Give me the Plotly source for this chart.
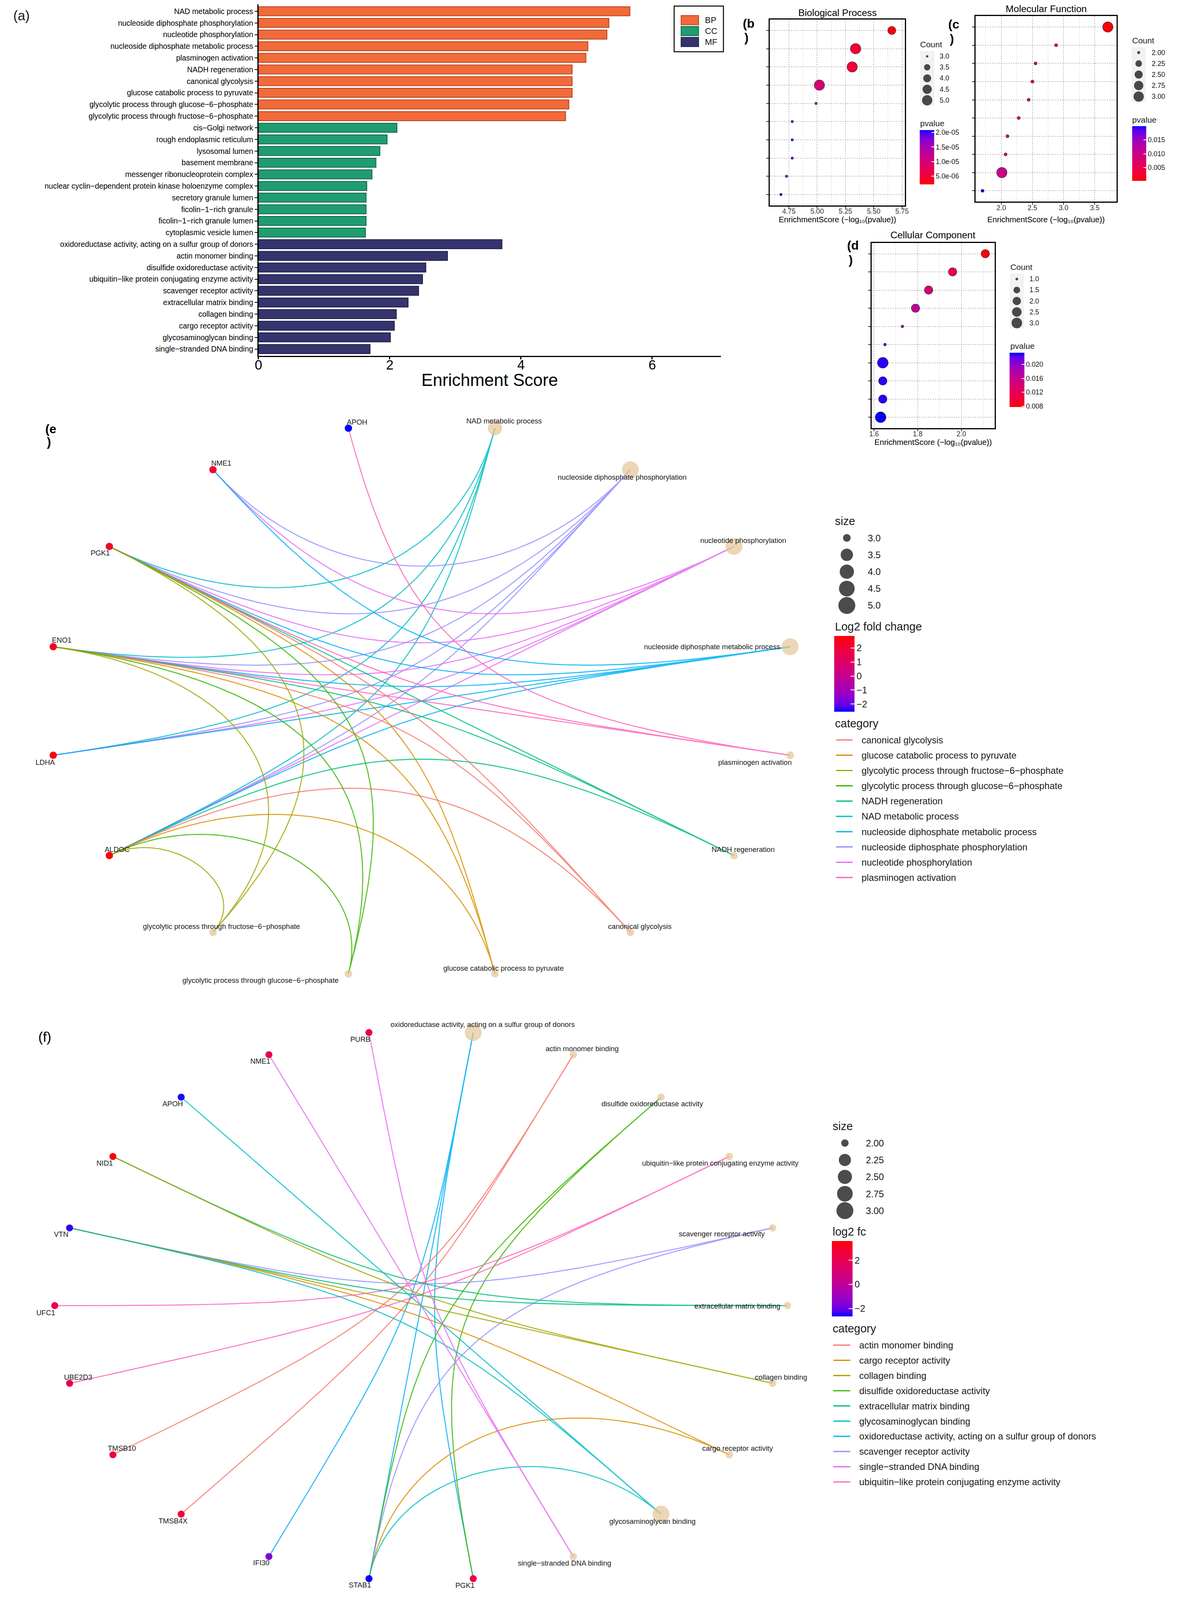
import math
import plotly.graph_objects as go

# The reference is laid out on a 3024 x 5568 canvas; the browser viewport is only
# 4096 px tall, so the same layout is drawn on a 3024 x 4096 page (vertical scale SY).
W, REF_H = 3024, 5568
H = 4096
SY = H / REF_H
FS = 0.88          # text scale
MS_DOT = 0.85      # marker scale, dot plots
MS_NET = 0.76      # marker scale, networks
FONT = "Liberation Sans, Arial, Helvetica, sans-serif"

# ------------------------------------------------------------------ data
bp_terms = ["NAD metabolic process", "nucleoside diphosphate phosphorylation",
            "nucleotide phosphorylation", "nucleoside diphosphate metabolic process",
            "plasminogen activation", "NADH regeneration", "canonical glycolysis",
            "glucose catabolic process to pyruvate",
            "glycolytic process through glucose\u22126\u2212phosphate",
            "glycolytic process through fructose\u22126\u2212phosphate"]
bp_score = [5.66, 5.34, 5.31, 5.02, 4.99, 4.78, 4.78, 4.78, 4.73, 4.68]
bp_count = [4, 5, 5, 5, 3, 3, 3, 3, 3, 3]
bp_pvalue = [2.2e-6, 4.6e-6, 4.9e-6, 9.5e-6, 1.02e-5, 1.66e-5, 1.66e-5, 1.66e-5, 1.86e-5, 2.09e-5]

cc_terms = ["cis\u2212Golgi network", "rough endoplasmic reticulum", "lysosomal lumen",
            "basement membrane", "messenger ribonucleoprotein complex",
            "nuclear cyclin\u2212dependent protein kinase holoenzyme complex",
            "secretory granule lumen", "ficolin\u22121\u2212rich granule",
            "ficolin\u22121\u2212rich granule lumen", "cytoplasmic vesicle lumen"]
cc_score = [2.11, 1.96, 1.85, 1.79, 1.73, 1.65, 1.64, 1.64, 1.64, 1.63]
cc_count = [2, 2, 2, 2, 1, 1, 3, 2, 2, 3]
cc_pvalue = [0.0078, 0.0110, 0.0141, 0.0162, 0.0186, 0.0224, 0.0229, 0.0229, 0.0229, 0.0234]

mf_terms = ["oxidoreductase activity, acting on a sulfur group of donors",
            "actin monomer binding", "disulfide oxidoreductase activity",
            "ubiquitin\u2212like protein conjugating enzyme activity",
            "scavenger receptor activity", "extracellular matrix binding",
            "collagen binding", "cargo receptor activity", "glycosaminoglycan binding",
            "single\u2212stranded DNA binding"]
mf_score = [3.71, 2.88, 2.55, 2.50, 2.44, 2.28, 2.10, 2.07, 2.01, 1.70]
mf_count = [3, 2, 2, 2, 2, 2, 2, 2, 3, 2]
mf_pvalue = [0.000195, 0.00132, 0.00282, 0.00316, 0.00363, 0.00525, 0.00794, 0.00851, 0.00977, 0.0200]

bp_count_breaks = [3.0, 3.5, 4.0, 4.5, 5.0]
mf_count_breaks = [2.00, 2.25, 2.50, 2.75, 3.00]
cc_count_breaks = [1.0, 1.5, 2.0, 2.5, 3.0]
bp_p_ticks = [5e-6, 1e-5, 1.5e-5, 2e-5]
bp_p_ticktext = ["5.0e-06", "1.0e-05", "1.5e-05", "2.0e-05"]
mf_p_ticks = [0.005, 0.010, 0.015]
mf_p_ticktext = ["0.005", "0.010", "0.015"]
cc_p_ticks = [0.008, 0.012, 0.016, 0.020]
cc_p_ticktext = ["0.008", "0.012", "0.016", "0.020"]

# network (e): BP terms and genes
e_genes = ["ALDOC", "LDHA", "ENO1", "PGK1", "NME1", "APOH"]
e_log2fc = [2.86, 2.6, 2.4, 2.3, 2.2, -2.55]
e_links = {
    "NAD metabolic process": ["PGK1", "ENO1", "LDHA", "ALDOC"],
    "nucleoside diphosphate phosphorylation": ["NME1", "PGK1", "ENO1", "LDHA", "ALDOC"],
    "nucleotide phosphorylation": ["NME1", "PGK1", "ENO1", "LDHA", "ALDOC"],
    "nucleoside diphosphate metabolic process": ["NME1", "PGK1", "ENO1", "LDHA", "ALDOC"],
    "plasminogen activation": ["APOH", "PGK1", "ENO1"],
    "NADH regeneration": ["PGK1", "ENO1", "ALDOC"],
    "canonical glycolysis": ["PGK1", "ENO1", "ALDOC"],
    "glucose catabolic process to pyruvate": ["PGK1", "ENO1", "ALDOC"],
    "glycolytic process through glucose\u22126\u2212phosphate": ["PGK1", "ENO1", "ALDOC"],
    "glycolytic process through fructose\u22126\u2212phosphate": ["PGK1", "ENO1", "ALDOC"],
}
e_legend_order = ["canonical glycolysis", "glucose catabolic process to pyruvate",
                  "glycolytic process through fructose\u22126\u2212phosphate",
                  "glycolytic process through glucose\u22126\u2212phosphate",
                  "NADH regeneration", "NAD metabolic process",
                  "nucleoside diphosphate metabolic process",
                  "nucleoside diphosphate phosphorylation",
                  "nucleotide phosphorylation", "plasminogen activation"]
e_size_breaks = [3.0, 3.5, 4.0, 4.5, 5.0]
e_fc_ticks = [-2, -1, 0, 1, 2]
e_fc_ticktext = ["\u22122", "\u22121", "0", "1", "2"]

# network (f): MF terms and genes
f_genes = ["PGK1", "STAB1", "IFI30", "TMSB4X", "TMSB10", "UBE2D3", "UFC1", "VTN",
           "NID1", "APOH", "NME1", "PURB"]
f_log2fc = [2.3, -2.67, -1.6, 2.6, 2.4, 2.1, 2.3, -2.4, 3.6, -2.55, 2.2, 2.3]
f_links = {
    "oxidoreductase activity, acting on a sulfur group of donors": ["IFI30", "STAB1", "PGK1"],
    "actin monomer binding": ["TMSB10", "TMSB4X"],
    "disulfide oxidoreductase activity": ["STAB1", "PGK1"],
    "ubiquitin\u2212like protein conjugating enzyme activity": ["UFC1", "UBE2D3"],
    "scavenger receptor activity": ["VTN", "STAB1"],
    "extracellular matrix binding": ["VTN", "NID1"],
    "collagen binding": ["NID1", "VTN"],
    "cargo receptor activity": ["VTN", "STAB1"],
    "glycosaminoglycan binding": ["APOH", "VTN", "STAB1"],
    "single\u2212stranded DNA binding": ["PURB", "NME1"],
}
f_legend_order = ["actin monomer binding", "cargo receptor activity", "collagen binding",
                  "disulfide oxidoreductase activity", "extracellular matrix binding",
                  "glycosaminoglycan binding",
                  "oxidoreductase activity, acting on a sulfur group of donors",
                  "scavenger receptor activity", "single\u2212stranded DNA binding",
                  "ubiquitin\u2212like protein conjugating enzyme activity"]
f_size_breaks = [2.00, 2.25, 2.50, 2.75, 3.00]
f_fc_ticks = [-2, 0, 2]
f_fc_ticktext = ["\u22122", "0", "2"]

# ------------------------------------------------------------------ style helpers
HUE10 = ["#F8766D", "#D89000", "#A3A500", "#39B600", "#00BF7D",
         "#00BFC4", "#00B0F6", "#9590FF", "#E76BF3", "#FF62BC"]
TAN = "#E5C494"
XTITLE = "EnrichmentScore (\u2212log\u2081\u2080(pvalue))"


def fs(v):
    return round(v * FS, 1)


def dom_x(l, r):
    return [l / W, r / W]


def dom_y(t, b):
    return [max(0.0, 1 - b / REF_H), 1 - t / REF_H]


def hidden_axis(**kw):
    d = dict(showticklabels=False, showgrid=False, zeroline=False, showline=False, ticks="",
             fixedrange=True)
    d.update(kw)
    return d


def _lin(c):
    c = c / 255.0
    return c / 12.92 if c <= 0.04045 else ((c + 0.055) / 1.055) ** 2.4


def _gam(c):
    c = max(0.0, min(1.0, c))
    v = 12.92 * c if c <= 0.0031308 else 1.055 * c ** (1 / 2.4) - 0.055
    return int(round(v * 255))


WP = (0.95047, 1.0, 1.08883)


def hex_to_lab(h):
    r, g, b = (_lin(int(h[i:i + 2], 16)) for i in (1, 3, 5))
    X = 0.4124564 * r + 0.3575761 * g + 0.1804375 * b
    Y = 0.2126729 * r + 0.7151522 * g + 0.0721750 * b
    Z = 0.0193339 * r + 0.1191920 * g + 0.9503041 * b

    def f(t):
        return t ** (1 / 3) if t > 216 / 24389 else (24389 / 27 * t + 16) / 116
    a1, a2, a3 = f(X / WP[0]), f(Y / WP[1]), f(Z / WP[2])
    return (116 * a2 - 16, 500 * (a1 - a2), 200 * (a2 - a3))


def lab_to_hex(L, a, b):
    f2 = (L + 16) / 116
    f1 = f2 + a / 500
    f3 = f2 - b / 200

    def finv(t):
        return t ** 3 if t ** 3 > 216 / 24389 else (116 * t - 16) / (24389 / 27)
    X, Y, Z = WP[0] * finv(f1), WP[1] * finv(f2), WP[2] * finv(f3)
    r = 3.2404542 * X - 1.5371385 * Y - 0.4985314 * Z
    g = -0.9692660 * X + 1.8760108 * Y + 0.0415560 * Z
    bb = 0.0556434 * X - 0.2040259 * Y + 1.0572252 * Z
    return "#%02x%02x%02x" % (_gam(r), _gam(g), _gam(bb))


def lab_scale(c0, c1, n=15):
    A, B = hex_to_lab(c0), hex_to_lab(c1)
    out = []
    for i in range(n):
        t = i / (n - 1)
        out.append([t, lab_to_hex(*[A[j] + (B[j] - A[j]) * t for j in range(3)])])
    return out


RED_BLUE = lab_scale("#FF0000", "#0000FF")   # low value -> red
BLUE_RED = lab_scale("#0000FF", "#FF0000")   # low value -> blue


def area_size(v, vmin, vmax, dmin, dmax, ms):
    return ms * (dmin + (dmax - dmin) * math.sqrt(max(0.0, (v - vmin) / (vmax - vmin))))


fig = go.Figure()
annotations = []
shapes = []


def ann(x, y, text, size, xanchor="left", color="#1a1a1a", xref="x7", yref="y7", **kw):
    annotations.append(dict(x=x, y=y, xref=xref, yref=yref, text=text, showarrow=False,
                            xanchor=xanchor, yanchor="middle",
                            font=dict(size=fs(size), color=color, family=FONT), **kw))


def panel_tag(x, y, text, size, gap):
    """ggplot-style tag that wrapped after its letter: '(b' and ')' on two lines."""
    ann(x, y, "<b>%s</b>" % text, size, color="black")
    ann(x + 4, y + gap, "<b>)</b>", size, color="black")


# ------------------------------------------------------------------ (a) bar chart
all_terms = bp_terms + cc_terms + mf_terms
bar_style = [("BP", bp_terms, bp_score, "#F26A3A", "#B3431C"),
             ("CC", cc_terms, cc_score, "#1F9D71", "#12624A"),
             ("MF", mf_terms, mf_score, "#35346F", "#1B1B45")]
for name, terms, vals, fill, edge in bar_style:
    fig.add_trace(go.Bar(y=terms, x=vals, orientation="h", width=0.78, name=name,
                         marker=dict(color=fill, line=dict(color=edge, width=2)),
                         xaxis="x", yaxis="y", showlegend=False, hoverinfo="skip"))

layout_axes = {}
layout_axes["xaxis"] = dict(domain=dom_x(656, 1848), range=[0, 7.05], anchor="y",
                            showline=True, linecolor="black", linewidth=2.5,
                            ticks="outside", ticklen=6, tickwidth=2.5, tickcolor="black",
                            ticklabelstandoff=-15,
                            tickvals=[0, 2, 4, 6], tickfont=dict(size=fs(39), color="black"),
                            showgrid=False, zeroline=False)
layout_axes["yaxis"] = dict(domain=dom_y(15, 1239), type="category", categoryorder="array",
                            categoryarray=all_terms, range=[len(all_terms) - 0.4, -0.6],
                            anchor="x", showline=True, linecolor="black", linewidth=2.5,
                            ticks="outside", ticklen=7, tickwidth=2, tickcolor="black",
                            tickfont=dict(size=fs(22), color="black"), showgrid=False,
                            zeroline=False)
ann(22, 54, "(a)", 39)
ann(1252, 1322, "Enrichment Score", 50, xanchor="center", color="black")
shapes.append(dict(type="rect", xref="x7", yref="y7", x0=1727, x1=1854, y0=21, y1=180,
                   line=dict(color="black", width=2.5), fillcolor="rgba(0,0,0,0)"))
for k, (name, terms, vals, fill, edge) in enumerate(bar_style):
    yc = 70 + k * 38
    shapes.append(dict(type="rect", xref="x7", yref="y7", x0=1745, x1=1790, y0=yc - 16,
                       y1=yc + 16, line=dict(color=edge, width=2), fillcolor=fill))
    ann(1804, yc, name, 25)

# ------------------------------------------------------------------ (b)(c)(d) dot plots
dot_panels = [
    dict(ax="2", terms=bp_terms, score=bp_score, count=bp_count, p=bp_pvalue, box=(1973, 68, 2322, 715),
         xr=[4.58, 5.777], ticks=[4.75, 5.0, 5.25, 5.5, 5.75], tt=["4.75", "5.00", "5.25", "5.50", "5.75"],
         title="Biological Process", title_y=44, lab="(b", lab_x=1902, lab_y=81, xt_y=764,
         breaks=bp_count_breaks, bfmt="%.1f", smin=7, smax=31,
         cnt_x=2359, cnt_y=154, key_x=2379, key_y0=196, lbl_x=2409,
         pv_y=429, cb=(2360, 452, 37, 189), pticks=bp_p_ticks, ptt=bp_p_ticktext, caxis="coloraxis"),
    dict(ax="3", terms=mf_terms, score=mf_score, count=mf_count, p=mf_pvalue, box=(2504, 56, 2867, 702),
         xr=[1.59, 3.85], ticks=[2.0, 2.5, 3.0, 3.5], tt=["2.0", "2.5", "3.0", "3.5"],
         title="Molecular Function", title_y=31, lab="(c", lab_x=2431, lab_y=84, xt_y=764,
         breaks=mf_count_breaks, bfmt="%.2f", smin=9, smax=31,
         cnt_x=2905, cnt_y=141, key_x=2924, key_y0=183, lbl_x=2956,
         pv_y=416, cb=(2907, 439, 36, 190), pticks=mf_p_ticks, ptt=mf_p_ticktext, caxis="coloraxis2"),
    dict(ax="4", terms=cc_terms, score=cc_score, count=cc_count, p=cc_pvalue, box=(2236, 845, 2553, 1490),
         xr=[1.589, 2.153], ticks=[1.6, 1.8, 2.0], tt=["1.6", "1.8", "2.0"],
         title="Cellular Component", title_y=818, lab="(d", lab_x=2171, lab_y=854, xt_y=1539,
         breaks=cc_count_breaks, bfmt="%.1f", smin=8, smax=32,
         cnt_x=2591, cnt_y=929, key_x=2610, key_y0=971, lbl_x=2641,
         pv_y=1204, cb=(2591, 1227, 38, 189), pticks=cc_p_ticks, ptt=cc_p_ticktext, caxis="coloraxis3"),
]

legend_dots_x, legend_dots_y, legend_dots_s = [], [], []
coloraxes = {}


def cbar(left, top, width, height, tickvals, ticktext, size):
    return dict(x=left / W, xanchor="left", y=1 - top / REF_H, yanchor="top", len=height * SY,
                lenmode="pixels", thickness=width, thicknessmode="pixels", outlinewidth=0,
                xpad=0, ypad=0, ticks="inside", ticklen=max(6, int(width * 0.2)), tickwidth=2,
                tickcolor="white", tickvals=tickvals, ticktext=ticktext,
                tickfont=dict(size=fs(size), color="#1a1a1a", family=FONT))


for P in dot_panels:
    l, t, r, b = P["box"]
    vmin, vmax = P["breaks"][0], P["breaks"][-1]
    sizes = [area_size(c, vmin, vmax, P["smin"], P["smax"], MS_DOT) for c in P["count"]]
    fig.add_trace(go.Scatter(x=P["score"], y=P["terms"], mode="markers",
                             marker=dict(size=sizes, color=P["p"], coloraxis=P["caxis"],
                                         line=dict(color="rgba(25,0,45,0.65)", width=1.5), opacity=1),
                             xaxis="x" + P["ax"], yaxis="y" + P["ax"], showlegend=False,
                             hoverinfo="skip"))
    tv = P["ticks"]
    step = tv[1] - tv[0]
    minor_vals = [tv[0] - step / 2] + [v + step / 2 for v in tv]
    layout_axes["xaxis" + P["ax"]] = dict(
        domain=dom_x(l, r), range=P["xr"], anchor="y" + P["ax"], showline=True, mirror=True,
        linecolor="black", linewidth=3, ticks="outside", ticklen=5, tickwidth=2, tickcolor="#333",
        ticklabelstandoff=-8,
        tickvals=tv, ticktext=P["tt"], tickfont=dict(size=fs(20), color="#333"),
        showgrid=True, gridcolor="#BDBDBD", griddash="dot", gridwidth=1.5,
        minor=dict(tickvals=minor_vals, showgrid=True, gridcolor="#CFCFCF", griddash="dot",
                   gridwidth=1.2, ticks=""),
        zeroline=False)
    layout_axes["yaxis" + P["ax"]] = dict(
        domain=dom_y(t, b), type="category", categoryorder="array", categoryarray=P["terms"],
        range=[len(P["terms"]) - 0.4, -0.6], anchor="x" + P["ax"], showline=True, mirror=True,
        linecolor="black", linewidth=3, ticks="outside", ticklen=6, tickwidth=2, tickcolor="#333",
        showticklabels=False, showgrid=True, gridcolor="#BDBDBD", griddash="dot", gridwidth=1.5,
        zeroline=False)
    ann((l + r) / 2, P["title_y"], P["title"], 28, xanchor="center", color="black")
    panel_tag(P["lab_x"], P["lab_y"], P["lab"], 36, 50)
    ann((l + r) / 2, P["xt_y"], XTITLE, 23, xanchor="center", color="black")
    ann(P["cnt_x"], P["cnt_y"], "Count", 24)
    dy = 38.25
    ky0 = P["key_y0"]
    shapes.append(dict(type="rect", xref="x7", yref="y7", x0=P["key_x"] - 18.5, x1=P["key_x"] + 18.5,
                       y0=ky0 - 19, y1=ky0 + 4 * dy + 19, line=dict(width=0), fillcolor="#F2F2F2",
                       layer="below"))
    for k, bv in enumerate(P["breaks"]):
        legend_dots_x.append(P["key_x"])
        legend_dots_y.append(ky0 + k * dy)
        legend_dots_s.append(area_size(bv, vmin, vmax, P["smin"], P["smax"], MS_DOT))
        ann(P["lbl_x"], ky0 + k * dy, P["bfmt"] % bv, 20)
    ann(P["cnt_x"], P["pv_y"], "pvalue", 24)
    cl, ct, cw, ch = P["cb"]
    coloraxes[P["caxis"]] = dict(colorscale=RED_BLUE,
                                 colorbar=cbar(cl, ct, cw, ch, P["pticks"], P["ptt"], 20))


# ------------------------------------------------------------------ (e)(f) networks
def arc_points(p0, p3, n=80):
    """ggraph circular arc: cubic Bezier whose control points are the end points
    pulled towards the centre by half the chord length."""
    d = math.hypot(p3[0] - p0[0], p3[1] - p0[1]) / 2.0
    k = 1 - d
    c1 = (p0[0] * k, p0[1] * k)
    c2 = (p3[0] * k, p3[1] * k)
    xs, ys = [], []
    for i in range(n + 1):
        t = i / n
        u = 1 - t
        xs.append(u ** 3 * p0[0] + 3 * u * u * t * c1[0] + 3 * u * t * t * c2[0] + t ** 3 * p3[0])
        ys.append(u ** 3 * p0[1] + 3 * u * u * t * c1[1] + 3 * u * t * t * c2[1] + t ** 3 * p3[1])
    return xs, ys


e_label_offsets = {
    "APOH": (22, -21), "NAD metabolic process": (23, -25), "NME1": (21, -23),
    "nucleoside diphosphate phosphorylation": (-21, 26), "PGK1": (-23, 22),
    "nucleotide phosphorylation": (23, -21), "ENO1": (22, -23),
    "nucleoside diphosphate metabolic process": (-200, 0), "LDHA": (-20, 25),
    "plasminogen activation": (-90, 25), "ALDOC": (20, -22), "NADH regeneration": (23, -22),
    "glycolytic process through fructose\u22126\u2212phosphate": (22, -21),
    "canonical glycolysis": (24, -21),
    "glycolytic process through glucose\u22126\u2212phosphate": (-225, 23),
    "glucose catabolic process to pyruvate": (22, -20),
}
f_label_offsets = {
    "PURB": (-22, 24), "oxidoreductase activity, acting on a sulfur group of donors": (24, -28),
    "NME1": (-22, 23), "actin monomer binding": (23, -21), "APOH": (-22, 23),
    "disulfide oxidoreductase activity": (-22, 23), "NID1": (-21, 23),
    "ubiquitin\u2212like protein conjugating enzyme activity": (-23, 23), "VTN": (-22, 22),
    "scavenger receptor activity": (-130, 20), "UFC1": (-23, 25),
    "extracellular matrix binding": (-128, 2), "UBE2D3": (22, -22), "collagen binding": (22, -22),
    "TMSB10": (23, -22), "cargo receptor activity": (22, -22), "TMSB4X": (-21, 24),
    "glycosaminoglycan binding": (-22, 25), "IFI30": (-20, 21),
    "single\u2212stranded DNA binding": (-22, 23), "STAB1": (-23, 22), "PGK1": (-21, 23),
}

networks = [
    dict(ax="5", cats=bp_terms, counts=bp_count, genes=e_genes, fc=e_log2fc, links=e_links,
         order=e_legend_order, caxis="coloraxis4", offsets=e_label_offsets,
         cx=1076.5, cy=2439.5, rx=968, ry=968, box=(0, 1380, 2150, 3500),
         tag="(e", lab_x=105, lab_y=1492, lab_size=36,
         breaks=e_size_breaks, smin=26, smax=57,
         size_t=(2139, 1814), key_x=2172, key_y0=1872, lbl_x=2224,
         fc_title="Log2 fold change", fc_t=(2139, 2180), cb=(2139, 2213, 52, 264),
         fticks=e_fc_ticks, ftt=e_fc_ticktext,
         cat_t=(2139, 2517), item_y0=2575, item_dy=53.2, line_x=(2144, 2187), item_x=2208),
    dict(ax="6", cats=mf_terms, counts=mf_count, genes=f_genes, fc=f_log2fc, links=f_links,
         order=f_legend_order, caxis="coloraxis5", offsets=f_label_offsets,
         cx=1075, cy=4543.5, rx=944, ry=960, box=(0, 3480, 2130, 5568),
         tag=None, lab_x=87, lab_y=3609, lab_size=40,
         breaks=f_size_breaks, smin=25, smax=57,
         size_t=(2133, 3919), key_x=2167, key_y0=3978, lbl_x=2219,
         fc_title="log2 fc", fc_t=(2133, 4286), cb=(2133, 4319, 53, 263),
         fticks=f_fc_ticks, ftt=f_fc_ticktext,
         cat_t=(2133, 4623), item_y0=4681, item_dy=52.9, line_x=(2137, 2181), item_x=2202),
]

for NW in networks:
    names = NW["cats"] + NW["genes"]
    N = len(names)
    pos = {}
    for i, nm in enumerate(names):
        th = math.pi / 2 - (i + 0.5) * 2 * math.pi / N
        pos[nm] = (math.cos(th), math.sin(th))
    xa, ya = "x" + NW["ax"], "y" + NW["ax"]
    l, t, r, b = NW["box"]
    layout_axes["xaxis" + NW["ax"]] = hidden_axis(
        domain=dom_x(l, r), anchor=ya,
        range=[(l - NW["cx"]) / NW["rx"], (r - NW["cx"]) / NW["rx"]])
    layout_axes["yaxis" + NW["ax"]] = hidden_axis(
        domain=dom_y(t, b), anchor=xa,
        range=[(NW["cy"] - b) / NW["ry"], (NW["cy"] - t) / NW["ry"]])
    for cat in NW["cats"]:
        col = HUE10[NW["order"].index(cat)]
        xs, ys = [], []
        for g in NW["links"][cat]:
            ax_, ay_ = arc_points(pos[cat], pos[g])
            xs += ax_ + [None]
            ys += ay_ + [None]
        fig.add_trace(go.Scatter(x=xs, y=ys, mode="lines", line=dict(color=col, width=2.6),
                                 opacity=0.85, xaxis=xa, yaxis=ya, showlegend=False,
                                 hoverinfo="skip"))
    vmin, vmax = NW["breaks"][0], NW["breaks"][-1]
    fig.add_trace(go.Scatter(
        x=[pos[c][0] for c in NW["cats"]], y=[pos[c][1] for c in NW["cats"]], mode="markers",
        marker=dict(size=[area_size(c, vmin, vmax, NW["smin"], NW["smax"], MS_NET) for c in NW["counts"]],
                    color=TAN, line=dict(width=0)),
        xaxis=xa, yaxis=ya, showlegend=False, hoverinfo="skip"))
    fig.add_trace(go.Scatter(
        x=[pos[g][0] for g in NW["genes"]], y=[pos[g][1] for g in NW["genes"]], mode="markers",
        marker=dict(size=area_size(vmin, vmin, vmax, NW["smin"], NW["smax"], MS_NET) - 1,
                    color=NW["fc"], coloraxis=NW["caxis"], line=dict(width=0)),
        xaxis=xa, yaxis=ya, showlegend=False, hoverinfo="skip"))
    for nm in names:
        dx, dy = NW["offsets"][nm]
        ann(pos[nm][0], pos[nm][1], nm, 21, xanchor="center", color="#1a1a1a",
            xref=xa, yref=ya, xshift=dx, yshift=-dy * SY)
    if NW["tag"]:
        panel_tag(NW["lab_x"], NW["lab_y"], NW["tag"], NW["lab_size"], 46)
    else:
        ann(NW["lab_x"], NW["lab_y"], "(f)", NW["lab_size"], color="black")
    ann(NW["size_t"][0], NW["size_t"][1], "size", 33)
    kdy = 58.75
    for k, bv in enumerate(NW["breaks"]):
        legend_dots_x.append(NW["key_x"])
        legend_dots_y.append(NW["key_y0"] + k * kdy)
        legend_dots_s.append(area_size(bv, vmin, vmax, NW["smin"], NW["smax"], MS_NET))
        fmt = "%.2f" if NW["breaks"][1] - NW["breaks"][0] < 0.5 else "%.1f"
        ann(NW["lbl_x"], NW["key_y0"] + k * kdy, fmt % bv, 27)
    ann(NW["fc_t"][0], NW["fc_t"][1], NW["fc_title"], 33)
    cl, ct, cw, ch = NW["cb"]
    coloraxes[NW["caxis"]] = dict(colorscale=BLUE_RED,
                                  colorbar=cbar(cl, ct, cw, ch, NW["fticks"], NW["ftt"], 27))
    ann(NW["cat_t"][0], NW["cat_t"][1], "category", 33)
    for k, cat in enumerate(NW["order"]):
        yy = NW["item_y0"] + k * NW["item_dy"]
        shapes.append(dict(type="line", xref="x7", yref="y7", x0=NW["line_x"][0], x1=NW["line_x"][1],
                           y0=yy, y1=yy, line=dict(color=HUE10[k], width=3.2)))
        ann(NW["item_x"], yy, cat, 27)

fig.add_trace(go.Scatter(x=legend_dots_x, y=legend_dots_y, mode="markers",
                         marker=dict(size=legend_dots_s, color="black", line=dict(width=0)),
                         xaxis="x7", yaxis="y7", showlegend=False, hoverinfo="skip"))
layout_axes["xaxis7"] = hidden_axis(domain=[0, 1], range=[0, W], anchor="y7")
layout_axes["yaxis7"] = hidden_axis(domain=[0, 1], range=[REF_H, 0], anchor="x7")

fig.update_layout(
    width=W, height=H, autosize=False,
    margin=dict(l=0, r=0, t=0, b=0, pad=0),
    paper_bgcolor="white", plot_bgcolor="rgba(0,0,0,0)",
    font=dict(family=FONT, color="#1a1a1a"),
    showlegend=False, hovermode=False,
    annotations=annotations, shapes=shapes,
    **layout_axes, **coloraxes,
)

page_fix = "document.body.style.margin='0'; document.body.style.overflow='hidden';"
fig.write_html("out.html", post_script=page_fix, config={"displayModeBar": False})
